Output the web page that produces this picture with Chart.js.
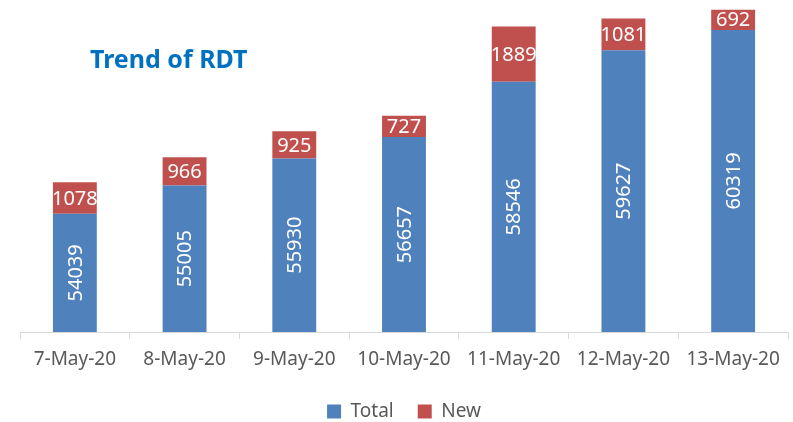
<!DOCTYPE html>
<html lang="en">
<head>
    <meta charset="UTF-8">
    <title>Trend of RDT</title>
    <script src="https://cdn.jsdelivr.net/npm/chart.js"></script>
    <style>
        html, body { margin: 0; padding: 0; background: #fff; }
        #wrap { width: 793px; height: 422px; }
    </style>
</head>
<body>
<div id="wrap"><canvas id="rdtChart"></canvas></div>

<script>
    const dates = ['7-May-20', '8-May-20', '9-May-20', '10-May-20', '11-May-20', '12-May-20', '13-May-20'];
    const totalTests = [54039, 55005, 55930, 56657, 58546, 59627, 60319];
    const newTests = [1078, 966, 925, 727, 1889, 1081, 692];

    const FONT = "'Noto Sans', 'Open Sans', sans-serif";

    // title + value labels drawn on top of the bars
    const labelPlugin = {
        id: 'labels',
        afterDatasetsDraw(chart) {
            const ctx = chart.ctx;
            const bottom = chart.chartArea.bottom;
            ctx.save();
            ctx.fillStyle = '#0070C0';
            ctx.font = 'bold 25px ' + FONT;
            ctx.textAlign = 'left';
            ctx.textBaseline = 'middle';
            ctx.fillText('Trend of RDT', 90, 61);

            ctx.fillStyle = '#fff';
            ctx.font = '20px ' + FONT;
            ctx.textAlign = 'center';
            chart.data.datasets.forEach((ds, i) => {
                const meta = chart.getDatasetMeta(i);
                meta.data.forEach((bar, j) => {
                    // base of the first stack sits below the axis min, clamp it
                    const base = Math.min(bar.base, bottom);
                    const cy = (bar.y + base) / 2;
                    const txt = String(ds.data[j]);
                    if (i === 0) {
                        ctx.save();
                        ctx.translate(bar.x + 1, cy);
                        ctx.rotate(-Math.PI / 2);
                        ctx.fillText(txt, 0, 0);
                        ctx.restore();
                    } else {
                        ctx.fillText(txt, bar.x, cy + 1);
                    }
                });
            });
            ctx.restore();
        }
    };

    new Chart(document.getElementById('rdtChart'), {
        type: 'bar',
        data: {
            labels: dates,
            datasets: [
                { label: 'Total', data: totalTests, backgroundColor: '#4F81BD' },
                { label: 'New', data: newTests, backgroundColor: '#C0504D' }
            ]
        },
        options: {
            responsive: true,
            maintainAspectRatio: false,
            animation: false,
            layout: { padding: { left: 20, right: 5, top: 0, bottom: 0 } },
            datasets: {
                bar: { categoryPercentage: 1, barPercentage: 0.4, borderWidth: 0 }
            },
            plugins: {
                legend: {
                    position: 'bottom',
                    maxHeight: 44,
                    labels: {
                        boxWidth: 14,
                        boxHeight: 14,
                        padding: 24,
                        color: '#595959',
                        font: { family: FONT, size: 19 }
                    }
                },
                tooltip: { enabled: false }
            },
            scales: {
                x: {
                    stacked: true,
                    afterFit: s => { s.height = 46; },
                    grid: {
                        offset: true,
                        drawOnChartArea: false,
                        tickLength: 7,
                        color: '#D9D9D9'
                    },
                    border: { color: '#D9D9D9', width: 1 },
                    ticks: {
                        padding: 9,
                        maxRotation: 0,
                        autoSkip: false,
                        color: '#595959',
                        font: { family: FONT, size: 19 }
                    }
                },
                y: {
                    stacked: true,
                    display: false,
                    min: 50000,
                    max: 61340
                }
            }
        },
        plugins: [labelPlugin]
    });
</script>
</body>
</html>
